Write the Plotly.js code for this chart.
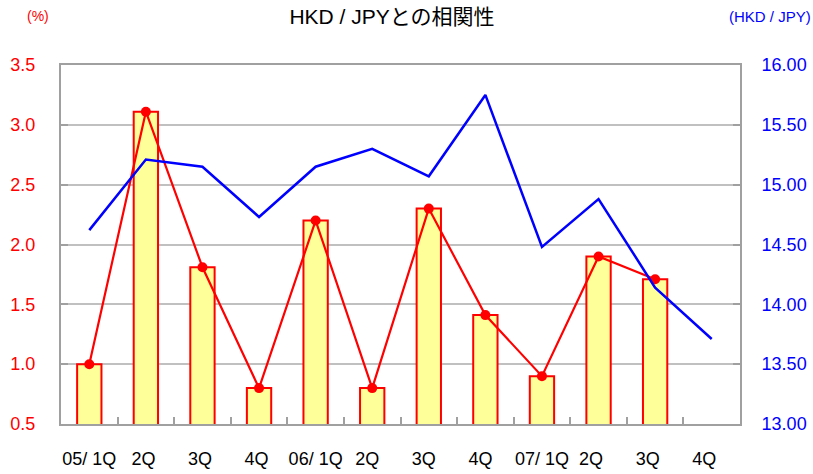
<!DOCTYPE html>
<html>
<head>
<meta charset="utf-8">
<script src="https://cdn.plot.ly/plotly-3.0.1.min.js"></script>
<style>body{margin:0;padding:0;background:#fff}#chart{width:813px;height:474px}</style>
</head>
<body>
<div id="chart"></div>
<script>
const categories = ["05/ 1Q","2Q ","3Q ","4Q ","06/ 1Q","2Q  ","3Q  ","4Q  ","07/ 1Q","2Q   ","3Q   ","4Q   "];
const corrPct = [1.0, 3.11, 1.81, 0.80, 2.20, 0.80, 2.30, 1.41, 0.90, 1.90, 1.71, null];
const hkdJpy = [14.62, 15.21, 15.15, 14.73, 15.15, 15.30, 15.07, 15.75, 14.48, 14.88, 14.14, 13.71];

const font = "Liberation Sans, Arial, Noto Sans CJK JP, sans-serif";

const traces = [
  {type:"bar", x:categories, y:corrPct, yaxis:"y",
   marker:{color:"#ffff99", line:{color:"#ff0000", width:2}}, hoverinfo:"skip"},
  {type:"scatter", mode:"lines+markers", x:categories, y:corrPct, yaxis:"y",
   line:{color:"#ff0000", width:2.2}, marker:{color:"#ff0000", size:10}},
  {type:"scatter", mode:"lines", x:categories, y:hkdJpy, yaxis:"y2",
   line:{color:"#0000ff", width:2.5}}
];

const layout = {
  width:813, height:474,
  margin:{l:61, r:73, t:65, b:50, pad:0},
  paper_bgcolor:"#fff", plot_bgcolor:"#fff",
  showlegend:false,
  bargap:0.57,
  font:{family:font, size:18, color:"#000"},
  title:{text:"HKD / JPYとの相関性", x:392/813, xanchor:"center", y:1-17/474, yanchor:"middle",
         font:{family:font, size:21, color:"#000"}},
  xaxis:{type:"category", showline:true, linecolor:"#a0a0a0", linewidth:2, mirror:true,
         ticks:"inside", tickson:"boundaries", ticklen:7, tickcolor:"#a0a0a0", tickwidth:2,
         showgrid:false, tickangle:0, tickfont:{family:font, size:18, color:"#000"}, ticklabelstandoff:17,
         range:[-0.5, 11.5]},
  yaxis:{range:[0.5, 3.5], dtick:0.5, tickformat:".1f", showline:true, linecolor:"#a0a0a0", linewidth:2,
         mirror:true, ticks:"inside", ticklen:7, tickcolor:"#a0a0a0", tickwidth:2,
         gridcolor:"#c0c0c0", gridwidth:2, zeroline:false,
         tickfont:{family:font, size:18, color:"#ff0000"}, ticklabelstandoff:20},
  yaxis2:{range:[13.0, 16.0], dtick:0.5, tickformat:".2f", overlaying:"y", side:"right",
         showline:true, linecolor:"#a0a0a0", linewidth:2, ticks:"inside", ticklen:7,
         tickcolor:"#a0a0a0", tickwidth:2, showgrid:false, zeroline:false,
         tickfont:{family:font, size:18, color:"#0000ff"}, ticklabelstandoff:16},
  annotations:[
    {text:"(%)", xref:"paper", yref:"paper", x:(37.5-61)/679, y:(474-50-16)/359, xanchor:"center", yanchor:"middle",
     showarrow:false, font:{family:font, size:14, color:"#ff0000"}},
    {text:"(HKD / JPY)", xref:"paper", yref:"paper", x:(770-61)/679, y:(474-50-16)/359, xanchor:"center", yanchor:"middle",
     showarrow:false, font:{family:font, size:15, color:"#0000ff"}}
  ]
};

Plotly.newPlot("chart", traces, layout, {displayModeBar:false, staticPlot:true});
</script>
</body>
</html>
